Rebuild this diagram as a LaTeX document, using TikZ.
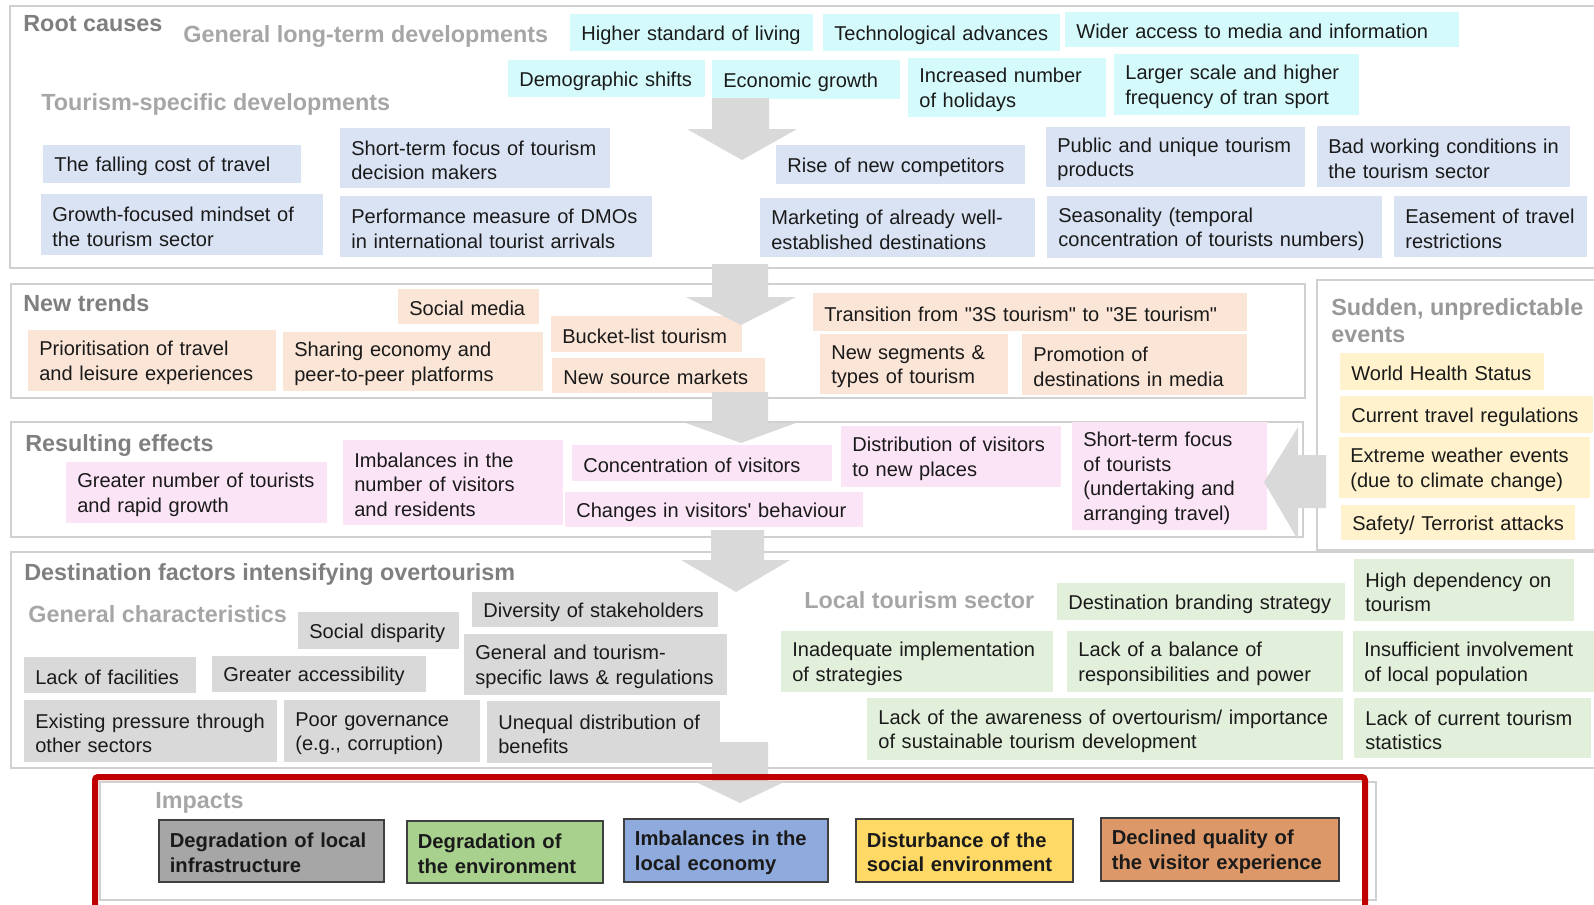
\documentclass[tikz,border=0pt]{standalone}
\usepackage{fontspec}
\setmainfont{Liberation Sans}[Ligatures=TeXOff]
\usepackage{xcolor}
\definecolor{framegray}{HTML}{D0D0D0}
\definecolor{arrowgray}{HTML}{D9D9D9}
\definecolor{headgray}{HTML}{7F7F7F}
\definecolor{subgray}{HTML}{A6A6A6}
\definecolor{longterm}{HTML}{D5FAFC}
\definecolor{specific}{HTML}{DAE3F3}
\definecolor{trend}{HTML}{FBE5D6}
\definecolor{effect}{HTML}{FBE4F6}
\definecolor{sudden}{HTML}{FFF2CC}
\definecolor{general}{HTML}{D9D9D9}
\definecolor{localsec}{HTML}{E2EFDA}
\definecolor{impactred}{HTML}{C00000}
\definecolor{infragray}{HTML}{A6A6A6}
\definecolor{envgreen}{HTML}{A9D18E}
\definecolor{econblue}{HTML}{8FAADC}
\definecolor{socyellow}{HTML}{FFD966}
\definecolor{visorange}{HTML}{DC9868}
\definecolor{boxink}{HTML}{1A1A1A}

% box from its top left to its bottom right corner
\newcommand{\factorbox}[7]{%
  \pgfmathsetmacro{\fbw}{(#5-#3)*0.02}%
  \pgfmathsetmacro{\fbh}{(#6-#4)*0.02}%
  \pgfmathsetmacro{\ftw}{\fbw-0.44}%
  \node[#2, anchor=north west, minimum width=\fbw cm, minimum height=\fbh cm,
        text width=\ftw cm] (#1) at (#3,#4) {#7};}

\begin{document}
\begin{tikzpicture}[
  x=0.02cm,
  y=-0.02cm,
  every node/.style={font=\fontsize{11.4}{14.2}\selectfont, text=boxink},
  section/.style={draw=framegray, line width=0.04cm},
  mainhead/.style={font=\fontsize{13.3}{15.3}\selectfont\bfseries, text=headgray, inner sep=0pt},
  subhead/.style={font=\fontsize{13.3}{15.3}\selectfont\bfseries, text=subgray, inner sep=0pt},
  fact/.style={inner xsep=0.22cm, inner ysep=0pt, text height=10.5pt, align=left},
  longbox/.style={fact, fill=longterm},
  specbox/.style={fact, fill=specific},
  trendbox/.style={fact, fill=trend},
  effectbox/.style={fact, fill=effect},
  suddenbox/.style={fact, fill=sudden},
  genbox/.style={fact, fill=general},
  localbox/.style={fact, fill=localsec},
  impact/.style={fact, draw=black!75, line width=0.035cm,
    font=\fontsize{11.5}{14.2}\selectfont\bfseries},
  flow/.style={fill=arrowgray}
]
  \useasboundingbox (0,0) rectangle (1594,904);

  % ---- section frames --------------------------------------------------
  \draw[section] (10,6) rectangle (1600,268);
  \draw[section] (11,284) rectangle (1305,398);
  \draw[section] (1317,280) rectangle (1600,550);
  \draw[section] (11,422) rectangle (1303,537);
  \draw[section] (11,552) rectangle (1600,768);
  \draw[section] (100,782) rectangle (1376,900);

  % ---- root causes -----------------------------------------------------
  \node[mainhead, anchor=base west] (rootlbl) at (23,31) {Root causes};
  \node[subhead, anchor=base west] (longlbl) at (183,42) {General long-term developments};
  \node[subhead, anchor=base west] (specificlbl) at (41,110) {Tourism-specific developments};

  \factorbox{higher}{longbox}{570}{14}{813}{51}{Higher standard of living}
  \factorbox{tech}{longbox}{823}{14}{1060}{51}{Technological advances}
  \factorbox{media}{longbox}{1065}{12}{1459}{47}{Wider access to media and information}
  \factorbox{demo}{longbox}{508}{60}{705}{97}{Demographic shifts}
  \factorbox{econ}{longbox}{712}{60}{900}{99}{Economic growth}
  \factorbox{holidays}{longbox}{908}{58}{1106}{117}{Increased number\\of holidays}
  \factorbox{transport}{longbox}{1114}{54}{1359}{115}{Larger scale and higher\\frequency of tran sport}

  \factorbox{falling}{specbox}{43}{145}{301}{183}{The falling cost of travel}
  \factorbox{decision}{specbox}{340}{128}{610}{188}{Short-term focus of tourism\\decision makers}
  \factorbox{mindset}{specbox}{41}{194}{323}{255}{Growth-focused mindset of\\the tourism sector}
  \factorbox{dmo}{specbox}{340}{196}{652}{257}{Performance measure of DMOs\\in international tourist arrivals}
  \factorbox{rivals}{specbox}{776}{145}{1025}{184}{Rise of new competitors}
  \factorbox{marketing}{specbox}{760}{198}{1035}{257}{Marketing of already well-\\established destinations}
  \factorbox{unique}{specbox}{1046}{127}{1305}{187}{Public and unique tourism\\products}
  \factorbox{working}{specbox}{1317}{126}{1570}{187}{Bad working conditions in\\the tourism sector}
  \factorbox{season}{specbox}{1047}{196}{1382}{258}{Seasonality (temporal\\concentration of tourists numbers)}
  \factorbox{easement}{specbox}{1394}{196}{1587}{257}{Easement of travel\\restrictions}

  % ---- new trends ------------------------------------------------------
  \node[mainhead, anchor=base west] (trendlbl) at (23,311) {New trends};

  \factorbox{socialmedia}{trendbox}{398}{289}{539}{324}{Social media}
  \factorbox{priority}{trendbox}{28}{330}{276}{391}{Prioritisation of travel\\and leisure experiences}
  \factorbox{sharing}{trendbox}{283}{332}{543}{391}{Sharing economy and\\peer-to-peer platforms}
  \factorbox{bucket}{trendbox}{551}{316}{742}{352}{Bucket-list tourism}
  \factorbox{source}{trendbox}{552}{358}{765}{393}{New source markets}
  \factorbox{transition}{trendbox}{813}{293}{1247}{331}{Transition from "3S tourism" to "3E tourism"}
  \factorbox{segments}{trendbox}{820}{334}{1008}{394}{New segments \&\\types of tourism}
  \factorbox{promotion}{trendbox}{1022}{334}{1247}{395}{Promotion of\\destinations in media}

  % ---- sudden events ---------------------------------------------------
  \node[subhead, anchor=north west, align=left, text=headgray!80] (suddenlbl) at (1331,298)
    {Sudden, unpredictable\\events};

  \factorbox{health}{suddenbox}{1340}{353}{1544}{390}{World Health Status}
  \factorbox{regulations}{suddenbox}{1340}{396}{1593}{433}{Current travel regulations}
  \factorbox{weather}{suddenbox}{1339}{437}{1590}{498}{Extreme weather events\\(due to climate change)}
  \factorbox{safety}{suddenbox}{1341}{505}{1575}{540}{Safety/ Terrorist attacks}

  % ---- resulting effects -----------------------------------------------
  \node[mainhead, anchor=base west] (effectlbl) at (25,451) {Resulting effects};

  \factorbox{tourists}{effectbox}{66}{462}{327}{523}{Greater number of tourists\\and rapid growth}
  \factorbox{imbalance}{effectbox}{343}{440}{563}{525}{Imbalances in the\\number of visitors\\and residents}
  \factorbox{concentration}{effectbox}{572}{445}{832}{481}{Concentration of visitors}
  \factorbox{behaviour}{effectbox}{565}{492}{863}{527}{Changes in visitors' behaviour}
  \factorbox{distribution}{effectbox}{841}{426}{1061}{487}{Distribution of visitors\\to new places}
  \factorbox{shortfocus}{effectbox}{1072}{422}{1267}{530}{Short-term focus\\of tourists\\(undertaking and\\arranging travel)}

  % ---- destination factors ---------------------------------------------
  \node[mainhead, anchor=base west] (destlbl) at (24,580) {Destination factors intensifying overtourism};
  \node[subhead, anchor=base west] (generallbl) at (28,622) {General characteristics};
  \node[subhead, anchor=base west] (locallbl) at (804,608) {Local tourism sector};

  \factorbox{diversity}{genbox}{472}{592}{718}{627}{Diversity of stakeholders}
  \factorbox{disparity}{genbox}{298}{612}{459}{649}{Social disparity}
  \factorbox{laws}{genbox}{464}{634}{727}{695}{General and tourism-\\specific laws \& regulations}
  \factorbox{facilities}{genbox}{24}{657}{196}{693}{Lack of facilities}
  \factorbox{accessibility}{genbox}{212}{656}{426}{692}{Greater accessibility}
  \factorbox{pressure}{genbox}{24}{700}{277}{762}{Existing pressure through\\other sectors}
  \factorbox{governance}{genbox}{284}{700}{480}{762}{Poor governance\\(e.g., corruption)}
  \factorbox{unequal}{genbox}{487}{701}{720}{763}{Unequal distribution of\\benefits}

  \factorbox{branding}{localbox}{1057}{583}{1345}{620}{Destination branding strategy}
  \factorbox{dependency}{localbox}{1354}{559}{1574}{621}{High dependency on\\tourism}
  \factorbox{inadequate}{localbox}{781}{631}{1053}{692}{Inadequate implementation\\of strategies}
  \factorbox{balance}{localbox}{1067}{631}{1343}{692}{Lack of a balance of\\responsibilities and power}
  \factorbox{involvement}{localbox}{1353}{631}{1600}{692}{Insufficient involvement\\of local population}
  \factorbox{awareness}{localbox}{867}{698}{1343}{760}{Lack of the awareness of overtourism/ importance\\of sustainable tourism development}
  \factorbox{statistics}{localbox}{1354}{698}{1591}{758}{Lack of current tourism\\statistics}

  % ---- impacts ---------------------------------------------------------
  \node[subhead, anchor=base west] (impactlbl) at (155,808) {Impacts};

  \factorbox{infra}{impact, fill=infragray}{158}{819}{383}{881}{Degradation of local\\infrastructure}
  \factorbox{environment}{impact, fill=envgreen}{406}{820}{602}{882}{Degradation of\\the environment}
  \factorbox{economy}{impact, fill=econblue}{623}{818}{827}{881}{Imbalances in the\\local economy}
  \factorbox{socialenv}{impact, fill=socyellow}{855}{818}{1072}{881}{Disturbance of the\\social environment}
  \factorbox{experience}{impact, fill=visorange}{1100}{817}{1338}{880}{Declined quality of\\the visitor experience}

  % ---- block arrows ----------------------------------------------------
  \fill[flow] (712,98) -- (769,98) -- (769,129) -- (797,129) -- (742,160)
    -- (687,129) -- (712,129) -- cycle;
  \fill[flow] (712,264) -- (768,264) -- (768,297) -- (796,297) -- (741,325)
    -- (686,297) -- (712,297) -- cycle;
  \fill[flow] (712,392) -- (768,392) -- (768,423) -- (796,423) -- (741,443)
    -- (686,423) -- (712,423) -- cycle;
  \fill[flow] (711,530) -- (764,530) -- (764,560) -- (790,560) -- (736,592)
    -- (681,560) -- (711,560) -- cycle;
  \fill[flow] (712,742) -- (768,742) -- (768,782) -- (784,782) -- (740,803)
    -- (696,782) -- (712,782) -- cycle;
  % from the sudden events to the resulting effects
  \fill[flow] (1326,455) -- (1326,508) -- (1298,508) -- (1298,540) -- (1264,482)
    -- (1298,427) -- (1298,455) -- cycle;

  % ---- red frame round the impacts -------------------------------------
  \draw[impactred, line width=0.12cm, rounded corners=0.06cm] (95,777) rectangle (1365,915);
\end{tikzpicture}
\end{document}
